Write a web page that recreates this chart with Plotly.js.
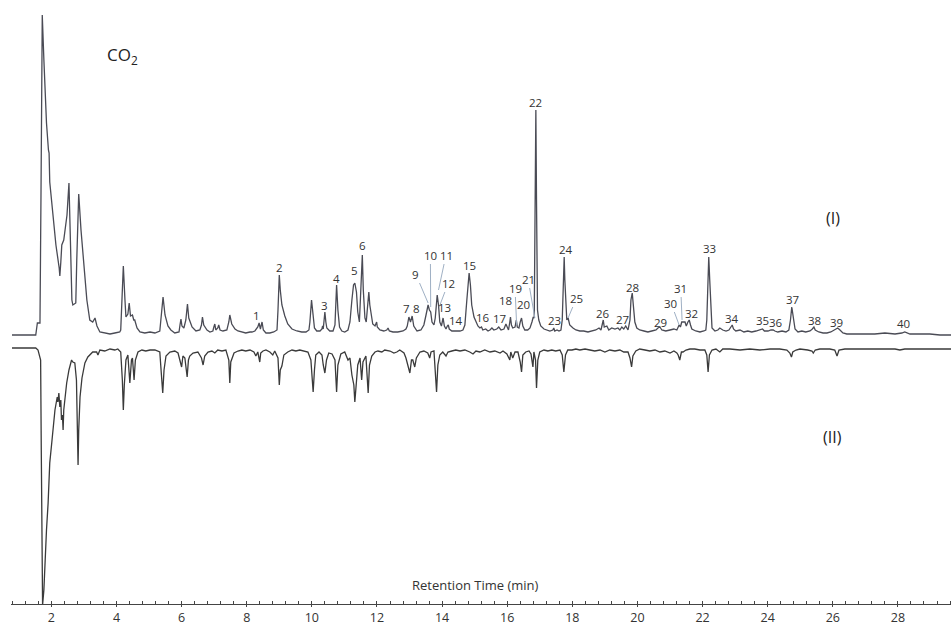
<!DOCTYPE html>
<html>
<head>
<meta charset="utf-8">
<script src="https://cdn.plot.ly/plotly-3.0.1.min.js"></script>
<style>html,body{margin:0;padding:0;background:#fff;}#chart{width:951px;height:626px;}</style>
</head>
<body>
<div id="chart"></div>
<script>
// Chromatogram (I): retention time (min) and signal above its baseline (a.u.)
const timeI = [0.79,1.52,1.57,1.65,1.68,1.72,1.77,1.85,1.91,1.93,1.95,2.05,2.14,2.24,2.26,2.29,2.32,2.38,2.48,2.54,2.58,2.63,2.66,2.75,2.78,2.84,2.91,3.00,3.09,3.18,3.27,3.34,3.40,3.49,3.64,3.80,3.95,4.10,
4.13,4.21,4.26,4.29,4.35,4.39,4.43,4.49,4.53,4.56,4.63,4.72,4.87,5.03,5.18,5.33,5.43,5.49,5.58,5.67,5.79,5.92,5.95,5.98,6.01,6.07,6.13,6.18,6.22,6.32,6.44,6.56,6.61,6.64,6.68,6.78,6.87,6.96,6.99,7.02,7.05,7.11,7.14,7.18,7.27,7.39,7.45,7.48,7.54,7.64,7.73,7.85,7.97,8.10,
8.16,8.25,8.31,8.34,8.38,8.42,8.47,8.51,8.59,8.71,8.83,8.93,8.96,9.00,9.03,9.08,9.17,9.26,9.39,9.54,9.69,9.82,9.91,9.94,9.99,10.03,10.08,10.15,10.25,10.31,10.33,10.35,10.37,10.40,10.43,10.46,10.55,10.65,10.71,10.76,10.80,10.85,10.92,
11.01,11.11,11.17,11.23,11.28,11.32,11.37,11.41,11.46,11.49,11.55,11.58,11.63,11.67,11.72,11.75,11.78,11.83,11.87,11.94,11.99,12.01,12.09,12.21,12.30,12.34,12.38,12.49,12.64,12.80,12.89,12.93,12.98,13.03,13.08,13.13,13.23,13.35,13.44,13.50,13.55,13.57,13.61,13.65,13.69,13.75,13.79,13.82,13.85,13.89,13.93,13.98,14.03,14.07,14.12,14.16,14.19,14.22,14.30,14.42,14.55,14.64,14.70,14.76,14.81,14.83,14.87,14.91,14.98,
15.04,15.10,15.16,15.21,15.25,15.34,15.41,15.47,15.53,15.59,15.68,15.74,15.81,15.90,15.96,15.99,16.04,16.08,16.10,16.13,16.17,16.24,16.28,16.31,16.36,16.40,16.44,16.48,16.54,16.63,16.70,16.76,16.80,16.83,16.86,16.88,16.90,16.93,16.97,17.03,17.13,17.22,17.31,17.40,17.43,17.46,17.53,17.59,17.65,17.69,17.73,17.75,17.77,17.80,17.83,17.87,17.92,18.02,18.11,18.23,
18.35,18.48,18.60,18.72,18.82,18.88,18.95,18.98,19.06,19.12,19.21,19.31,19.40,19.46,19.52,19.58,19.64,19.71,19.77,19.80,19.84,19.88,19.92,19.98,20.07,20.20,20.32,20.44,20.57,20.63,20.69,20.75,20.87,21.00,21.12,21.21,21.28,21.32,21.36,21.46,21.50,21.55,21.59,21.63,21.67,21.79,21.92,22.04,22.10,22.13,22.16,22.19,22.22,22.26,22.29,22.38,22.47,22.53,
22.62,22.72,22.81,22.87,22.91,22.95,23.02,23.15,23.27,23.39,23.51,23.64,23.76,23.84,23.90,24.01,24.10,24.17,24.22,24.31,24.44,24.56,24.65,24.70,24.74,24.78,24.84,24.93,25.05,25.17,25.30,25.37,25.42,25.46,25.57,25.70,25.82,25.94,26.03,26.15,26.22,26.31,26.43,26.68,26.99,27.29,27.60,27.91,28.12,28.21,28.37,28.67,28.98,29.29,29.63];
const signalI = [0,0,12,12,135,320,275,212,185,182,153,120,90,67,59,73,90,95,120,152,95,35,30,32,75,141,105,65,35,15,13,17,9,3,2,1,2,3,
5,69,35,18,21,32,19,20,15,15,7,3,2,3,2,4,38,20,9,5,2,3,10,16,9,7,15,31,17,8,4,5,10,18,10,5,3,4,8,11,5,7,10,5,4,5,13,20,11,6,4,3,2,3,
3,4,7,8,12,6,13,5,2,2,3,5,25,60,45,30,19,11,6,4,3,3,5,13,35,20,7,4,4,6,9,6,15,23,13,7,4,4,10,50,25,8,4,
3,5,13,35,50,52,43,23,13,35,80,45,17,13,30,43,30,17,11,9,13,8,5,4,5,7,4,3,3,4,6,9,18,13,19,9,4,5,10,19,25,30,25,23,13,10,17,35,40,30,13,9,17,9,6,9,10,6,4,4,4,5,10,35,55,62,50,30,18,
13,9,7,8,5,6,4,5,7,5,6,8,5,6,11,9,5,13,18,10,7,8,15,8,7,13,17,9,5,5,7,13,18,17,135,225,135,25,15,9,6,5,4,5,7,4,5,4,5,15,55,78,55,25,15,17,10,7,5,4,
4,3,4,5,7,5,15,8,9,5,7,6,7,5,8,6,9,5,15,35,42,30,13,7,5,4,3,4,5,7,8,5,4,5,6,5,10,8,13,13,9,13,15,10,6,4,3,4,5,15,65,78,55,15,7,4,5,7,
5,4,5,8,10,6,4,5,3,4,3,4,5,6,4,4,5,5,4,3,4,3,5,15,28,17,6,3,4,3,4,6,8,5,3,2,2,3,5,7,5,2,1,1,1,1,2,1,2,3,1,1,1,0,0];

// Chromatogram (II): retention time (min) and signal below its baseline (a.u.)
const timeII = [0.79,1.52,1.59,1.67,1.69,1.73,1.77,1.80,1.85,1.90,1.93,1.95,2.02,2.06,2.11,2.18,2.20,2.23,2.26,2.29,2.31,2.34,2.36,2.38,2.47,2.54,2.62,2.66,2.72,2.77,2.80,2.82,2.84,2.88,2.94,3.03,3.12,3.18,3.27,3.39,3.43,3.49,3.64,3.80,3.95,4.04,
4.13,4.18,4.21,4.24,4.29,4.35,4.41,4.46,4.49,4.54,4.58,4.66,4.78,4.90,5.03,5.18,5.33,5.38,5.42,5.46,5.52,5.64,5.79,5.89,5.95,6.00,6.04,6.10,6.17,6.21,6.25,6.35,6.50,6.61,6.66,6.71,6.81,6.93,7.02,7.11,7.24,7.36,7.45,7.48,7.51,7.61,7.73,7.85,7.97,8.10,
8.22,8.28,8.34,8.40,8.43,8.50,8.59,8.71,8.80,8.86,8.96,9.00,9.03,9.08,9.14,9.26,9.39,9.51,9.63,9.79,9.88,9.97,10.01,10.04,10.08,10.12,10.22,10.31,10.35,10.40,10.45,10.52,10.62,10.71,10.76,10.80,10.89,
11.01,11.11,11.17,11.23,11.29,11.32,11.37,11.41,11.48,11.53,11.57,11.66,11.73,11.77,11.84,11.94,12.03,12.15,12.24,12.40,12.52,12.61,12.70,12.83,12.89,12.95,13.01,13.06,13.10,13.16,13.21,13.32,13.44,13.56,13.62,13.66,13.75,13.83,13.87,13.93,14.02,14.12,14.18,14.30,14.42,14.55,14.70,14.85,14.95,
15.04,15.16,15.31,15.47,15.62,15.78,15.87,15.99,16.08,16.11,16.17,16.24,16.33,16.40,16.44,16.48,16.57,16.67,16.73,16.79,16.82,16.87,16.90,16.94,17.00,17.13,17.25,17.37,17.49,17.62,17.69,17.74,17.79,17.86,17.99,18.11,18.23,
18.39,18.54,18.69,18.85,19.00,19.15,19.31,19.46,19.58,19.71,19.77,19.82,19.86,19.95,20.07,20.23,20.38,20.54,20.69,20.84,21.00,21.12,21.21,21.25,21.30,21.35,21.40,21.49,21.61,21.76,21.92,22.07,22.13,22.17,22.21,22.29,22.41,22.53,
22.62,22.84,23.15,23.45,23.76,24.07,24.37,24.59,24.68,24.73,24.77,24.87,24.99,25.23,25.36,25.40,25.46,25.60,25.91,26.06,26.13,26.19,26.37,26.83,27.45,27.91,28.06,28.21,28.67,29.63];
const signalII = [-1,-1,1,11,101,256,241,214,181,154,121,114,91,78,61,48,53,44,58,51,71,66,81,61,34,21,11,13,14,31,71,116,81,48,29,14,8,6,3,3,6,1,2,0,1,0,
3,31,61,36,11,6,34,11,9,31,11,3,1,2,1,1,3,26,44,21,7,3,2,4,11,18,7,9,28,11,7,4,3,9,16,7,3,2,4,1,2,1,11,34,13,4,2,1,2,1,
3,7,3,13,4,2,1,3,6,2,9,36,21,17,6,3,1,2,1,2,3,11,26,43,21,6,3,6,16,24,11,4,5,11,43,16,5,
3,11,9,26,36,53,26,16,9,31,13,7,44,16,7,3,2,3,1,2,4,3,1,4,9,16,24,11,11,18,9,3,2,4,9,3,2,43,16,6,3,7,3,2,1,2,1,3,5,
2,3,1,3,2,4,2,5,11,3,9,3,3,13,23,6,3,2,5,18,3,11,39,11,3,1,2,1,2,1,6,23,6,1,1,0,1,
0,1,2,1,3,1,2,1,3,3,9,18,7,2,0,1,2,1,3,2,4,2,4,6,11,3,3,1,0,0,1,1,6,23,6,1,0,3,
0,0,1,0,1,0,0,1,4,8,3,1,0,1,2,4,1,0,0,1,7,1,0,0,0,0,1,0,0,0];

// Peak numbering for chromatogram (I): label position (time, height above baseline)
const peakIds = ['1','2','3','4','5','6','7','8','9','10','11','12','13','14','15','16','17','18','19','20',
                 '21','22','23','24','25','26','27','28','29','30','31','32','33','34','35','36','37','38','39','40'];
const labelTime = [8.31,9.02,10.40,10.76,11.32,11.55,12.91,13.22,13.19,13.64,14.12,14.19,14.08,14.43,14.83,15.26,15.75,15.95,16.24,16.49,
                   16.64,16.88,17.46,17.80,18.13,18.95,19.53,19.85,20.72,21.03,21.33,21.66,22.20,22.91,23.84,24.25,24.75,25.45,26.12,28.16];
const labelHeight = [20,68,30,57,65,90,27,27,61,80,80,52,28,15,70,18,17,35,47,31,
                     56,233,15,86,37,22,16,48,13,32,47,22,87,17,15,13,36,15,13,12];
// Leader lines from a label to its peak
const leaderIds = ['9','10','11','12','19','21','25','30','31'];
const leaderTime = [13.57,13.65,13.89,13.91,16.29,16.85,17.87,21.28,21.37];
const leaderHeight = [32,28,45,28,10,17,17,10,15];

const xTicks = [2,4,6,8,10,12,14,16,18,20,22,24,26,28];
const OFFSET = 7; // separation of the two baselines

const yI = signalI.map(v => v + OFFSET);
const yII = signalII.map(v => -OFFSET - v);

const traces = [
  {x: timeI, y: yI, type: 'scatter', mode: 'lines', line: {color: '#4a4b55', width: 1.3}, hoverinfo: 'skip'},
  {x: timeII, y: yII, type: 'scatter', mode: 'lines', line: {color: '#3a3a3a', width: 1.3}, hoverinfo: 'skip'}
];

const lblFont = {family: 'Open Sans, sans-serif', size: 11.5, color: '#333'};
const annotations = [];
peakIds.forEach((id, i) => {
  const k = leaderIds.indexOf(id);
  if (k < 0) {
    annotations.push({x: labelTime[i], y: labelHeight[i] + OFFSET, xref: 'x', yref: 'y', text: id,
      showarrow: false, font: lblFont, xanchor: 'center', yanchor: 'middle'});
  } else {
    annotations.push({x: leaderTime[k], y: leaderHeight[k] + OFFSET, xref: 'x', yref: 'y',
      ax: labelTime[i], ay: labelHeight[i] + OFFSET, axref: 'x', ayref: 'y', text: id,
      showarrow: true, arrowhead: 0, arrowwidth: 1, arrowcolor: '#9fb0c4', standoff: 0, font: lblFont});
  }
});
annotations.push({x: 4.17, y: 287, xref: 'x', yref: 'y', text: 'CO<sub>2</sub>', showarrow: false,
  font: {family: 'Open Sans, sans-serif', size: 17, color: '#222'}});
annotations.push({x: 26.0, y: 124, xref: 'x', yref: 'y', text: '(I)', showarrow: false,
  font: {family: 'Open Sans, sans-serif', size: 16, color: '#222'}});
annotations.push({x: 26.0, y: -95, xref: 'x', yref: 'y', text: '(II)', showarrow: false,
  font: {family: 'Open Sans, sans-serif', size: 16, color: '#222'}});
annotations.push({x: 0.494, y: 0.031, xref: 'paper', yref: 'paper', xanchor: 'center', yanchor: 'middle',
  text: 'Retention Time (min)', showarrow: false,
  font: {family: 'Open Sans, sans-serif', size: 13, color: '#333'}});

const layout = {
  width: 951, height: 626,
  margin: {l: 11, r: 0, t: 0, b: 22, pad: 0},
  paper_bgcolor: '#fff', plot_bgcolor: '#fff',
  showlegend: false,
  xaxis: {
    range: [0.76, 29.63], showgrid: false, zeroline: false,
    showline: true, linecolor: '#444', linewidth: 1,
    tickmode: 'array', tickvals: xTicks, ticktext: xTicks.map(String),
    ticks: 'outside', ticklen: 2, tickcolor: '#444', tickwidth: 1,
    tickfont: {family: 'Open Sans, sans-serif', size: 12.5, color: '#333'},
    minor: {ticks: 'inside', ticklen: 3, tickcolor: '#444', tick0: 0, dtick: 0.4, showgrid: false}
  },
  yaxis: {range: [-262, 342], visible: false, showgrid: false, zeroline: false},
  annotations: annotations
};

Plotly.newPlot('chart', traces, layout, {staticPlot: true, displayModeBar: false});
</script>
</body>
</html>
